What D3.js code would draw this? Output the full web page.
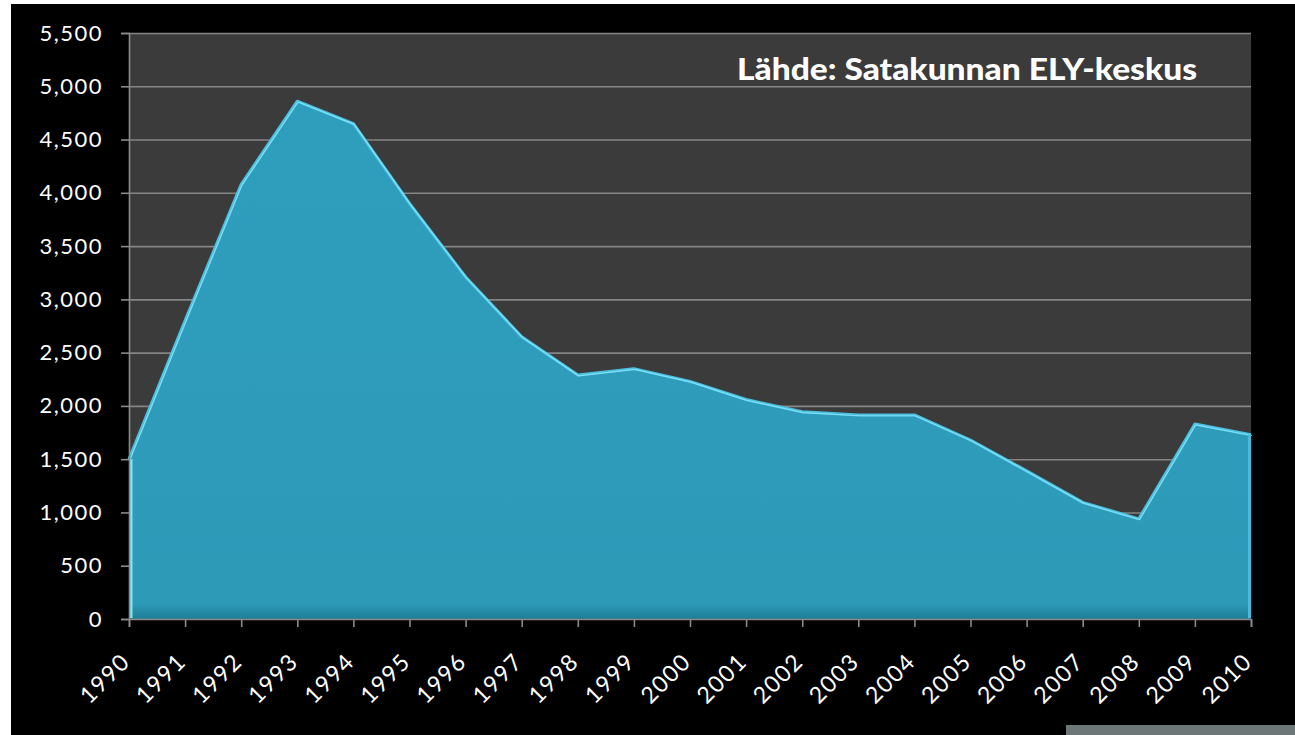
<!DOCTYPE html>
<html>
<head>
<meta charset="utf-8">
<script src="https://cdn.jsdelivr.net/npm/d3@7"></script>
<style>
  body { margin: 0; background: #fff; }
  text { font-family: Lato, "Open Sans", sans-serif; }
</style>
</head>
<body>
<script>
// data
var years = [1990, 1991, 1992, 1993, 1994, 1995, 1996, 1997, 1998, 1999, 2000,
             2001, 2002, 2003, 2004, 2005, 2006, 2007, 2008, 2009, 2010];
var values = [1500, 2800, 4080, 4860, 4650, 3900, 3210, 2650, 2290, 2350, 2230,
              2060, 1945, 1915, 1915, 1680, 1390, 1095, 940, 1830, 1730];
var yTicks = [0, 500, 1000, 1500, 2000, 2500, 3000, 3500, 4000, 4500, 5000, 5500];
var sourceText = "Lähde: Satakunnan ELY-keskus";

var svgWidth = 1295, svgHeight = 735;
var margin = { top: 33, right: 44, bottom: 116, left: 129 };
var width = svgWidth - margin.left - margin.right;
var height = svgHeight - margin.top - margin.bottom;

var svg = d3.select("body").append("svg")
    .attr("width", svgWidth)
    .attr("height", svgHeight);

// black slide background
svg.append("rect").attr("x", 11).attr("y", 4)
    .attr("width", svgWidth - 11).attr("height", svgHeight - 4)
    .attr("fill", "#000");
svg.append("rect").attr("x", 1066).attr("y", 725)
    .attr("width", svgWidth - 1066).attr("height", 10)
    .attr("fill", "#6d7777");

var chartGroup = svg.append("g")
    .attr("transform", `translate(${margin.left}, ${margin.top})`);

var x = d3.scaleLinear().domain([1990, 2010]).range([0, width]);
var y = d3.scaleLinear().domain([0, 5500]).range([height, 0]);

// plot area
chartGroup.append("rect")
    .attr("width", width).attr("height", height)
    .attr("fill", "#3b3b3b");

// gridlines
chartGroup.append("g")
    .call(d3.axisLeft(y).tickValues(yTicks.slice(1)).tickSize(-width).tickFormat(""))
    .call(g => g.select(".domain").remove())
    .selectAll("line")
    .attr("stroke", "#858585")
    .attr("stroke-width", 1.6);

var data = years.map((yr, i) => ({ year: yr, value: values[i] }));

var defs = svg.append("defs");
var grad = defs.append("linearGradient").attr("id", "fillGrad")
    .attr("x1", 0).attr("y1", 0).attr("x2", 0).attr("y2", 1);
grad.append("stop").attr("offset", "0%").attr("stop-color", "#2f9ebd");
grad.append("stop").attr("offset", "97%").attr("stop-color", "#2d9ab8");
grad.append("stop").attr("offset", "100%").attr("stop-color", "#1f7d96");

var area = d3.area()
    .x(d => x(d.year))
    .y0(y(0))
    .y1(d => y(d.value));

chartGroup.append("path")
    .datum(data)
    .attr("d", area)
    .attr("fill", "url(#fillGrad)");

// bevel highlight along the top edge
var line = d3.line()
    .x(d => x(d.year))
    .y(d => y(d.value));

chartGroup.append("path")
    .datum(data)
    .attr("d", line)
    .attr("fill", "none")
    .attr("stroke", "#4cc0e0")
    .attr("stroke-width", 3)
    .attr("stroke-linejoin", "round");

chartGroup.append("path")
    .datum(data)
    .attr("d", line)
    .attr("fill", "none")
    .attr("stroke", "#7fe0f7")
    .attr("stroke-width", 1.2)
    .attr("transform", "translate(0.8, 0.8)");

// left and right edges
chartGroup.append("line")
    .attr("x1", x(1990) + 2).attr("x2", x(1990) + 2)
    .attr("y1", y(values[0])).attr("y2", y(0) - 1)
    .attr("stroke", "#7fe6fb").attr("stroke-width", 3);
chartGroup.append("line")
    .attr("x1", x(2010) - 1.5).attr("x2", x(2010) - 1.5)
    .attr("y1", y(values[values.length - 1])).attr("y2", y(0) - 1)
    .attr("stroke", "#4bb9d8").attr("stroke-width", 3);

// y axis
var yAxis = chartGroup.append("g")
    .call(d3.axisLeft(y).tickValues(yTicks).tickSize(8).tickPadding(18)
        .tickFormat(d3.format(",")));
yAxis.select(".domain").attr("stroke", "#8a8a8a").attr("stroke-width", 1.6);
yAxis.selectAll("line").attr("stroke", "#8a8a8a").attr("stroke-width", 1.6);
yAxis.selectAll("text")
    .attr("fill", "#fff")
    .style("font-size", "22px")
    .style("letter-spacing", "1.5px");

// x axis
var xAxis = chartGroup.append("g")
    .attr("transform", `translate(0, ${height})`)
    .call(d3.axisBottom(x).tickValues(years).tickSize(8).tickFormat(d3.format("d")));
xAxis.select(".domain").attr("stroke", "#8a8a8a").attr("stroke-width", 1.6);
xAxis.selectAll("line").attr("stroke", "#8a8a8a").attr("stroke-width", 1.6);
xAxis.selectAll("text")
    .attr("fill", "#fff")
    .style("font-size", "23px")
    .style("letter-spacing", "1.5px")
    .attr("text-anchor", "end")
    .attr("dy", 0)
    .attr("y", 0)
    .attr("transform", "translate(2, 44) rotate(-45)");

// source note
chartGroup.append("text")
    .attr("x", 1197 - margin.left)
    .attr("y", 80 - margin.top)
    .attr("text-anchor", "end")
    .attr("fill", "#fff")
    .attr("textLength", 460)
    .attr("lengthAdjust", "spacingAndGlyphs")
    .style("font-size", "31px")
    .style("font-weight", "900")
    .text(sourceText);
</script>
</body>
</html>
